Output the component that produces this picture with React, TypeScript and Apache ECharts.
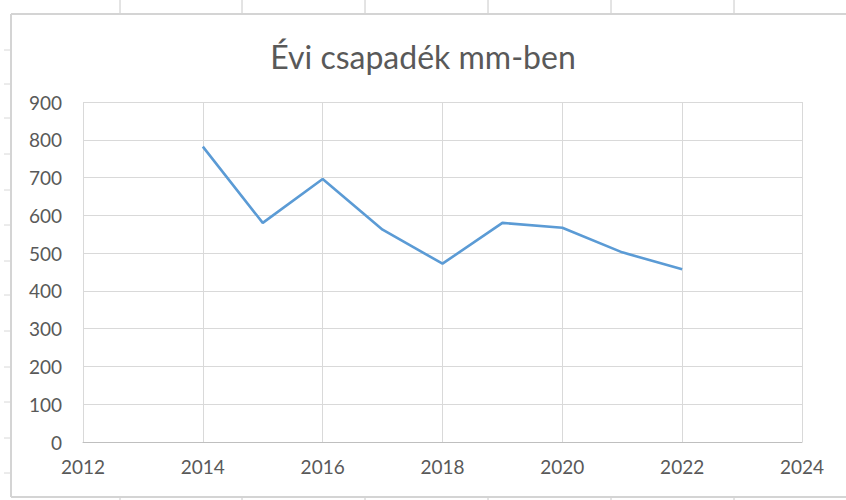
import React, { useEffect, useRef } from "react";
import * as echarts from "echarts";

// Annual precipitation (mm) by year
const years = [2014, 2015, 2016, 2017, 2018, 2019, 2020, 2021, 2022];
const rainfall = [782, 580, 696, 562, 472, 580, 567, 502, 457];

const xTicks = { min: 2012, max: 2024, step: 2 };
const yTicks = { min: 0, max: 900, step: 100 };

const titleText = "Évi csapadék mm-ben";

// worksheet column / row separators peeking around the chart frame
const columnMarks = [120, 242, 365, 488, 611, 734];
const rowMarks = [50, 84, 118, 154, 190, 225, 261, 295, 331, 367, 402, 438, 473];

export default function App() {
  const ref = useRef<HTMLDivElement>(null);

  useEffect(() => {
    if (!ref.current) return;
    const chart = echarts.init(ref.current, undefined, { renderer: "svg" });
    const frameColor = "#d4d4d4";
    const graphics: any[] = [
      { type: "line", shape: { x1: 11, y1: 14, x2: 846, y2: 14 }, style: { stroke: frameColor, lineWidth: 2 } },
      { type: "line", shape: { x1: 11, y1: 14, x2: 11, y2: 497 }, style: { stroke: frameColor, lineWidth: 2 } },
      { type: "line", shape: { x1: 11, y1: 497, x2: 846, y2: 497 }, style: { stroke: frameColor, lineWidth: 2 } },
    ];
    columnMarks.forEach((x) => {
      graphics.push({ type: "line", shape: { x1: x, y1: 0, x2: x, y2: 13 }, style: { stroke: "#c8c8c8", lineWidth: 1 } });
      graphics.push({ type: "line", shape: { x1: x, y1: 498, x2: x, y2: 500 }, style: { stroke: "#c8c8c8", lineWidth: 1 } });
    });
    rowMarks.forEach((y) => {
      graphics.push({ type: "line", shape: { x1: 4, y1: y, x2: 10, y2: y }, style: { stroke: "#d8d8d8", lineWidth: 1 } });
    });

    chart.setOption({
      animation: false,
      backgroundColor: "#ffffff",
      textStyle: { fontFamily: "Lato, 'Noto Sans', sans-serif" },
      title: {
        text: titleText,
        left: "center",
        top: 35,
        textStyle: { fontFamily: "Lato, 'Noto Sans', sans-serif", fontSize: 32, fontWeight: "normal", color: "#595959" },
      },
      graphic: graphics,
      grid: { left: 83, right: 44, top: 102, bottom: 58, containLabel: false },
      xAxis: {
        type: "value",
        min: xTicks.min,
        max: xTicks.max,
        interval: xTicks.step,
        axisLine: { show: true, lineStyle: { color: "#bfbfbf", width: 1 } },
        axisTick: { show: false },
        axisLabel: { color: "#595959", fontSize: 19, margin: 15, formatter: (v: number) => String(v) },
        splitLine: { show: true, lineStyle: { color: "#d9d9d9", width: 1 } },
      },
      yAxis: {
        type: "value",
        min: yTicks.min,
        max: yTicks.max,
        interval: yTicks.step,
        axisLine: { show: false },
        axisTick: { show: false },
        axisLabel: { color: "#595959", fontSize: 19, margin: 21 },
        splitLine: { show: true, lineStyle: { color: "#d9d9d9", width: 1 } },
      },
      series: [
        {
          type: "line",
          data: years.map((y, i) => [y, rainfall[i]]),
          symbol: "none",
          lineStyle: { color: "#5b9bd5", width: 2.6 },
        },
      ],
    });
    return () => chart.dispose();
  }, []);

  return (
    <div
      ref={ref}
      style={{ position: "absolute", left: 0, top: 0, width: 846, height: 500, background: "#fff" }}
    />
  );
}
